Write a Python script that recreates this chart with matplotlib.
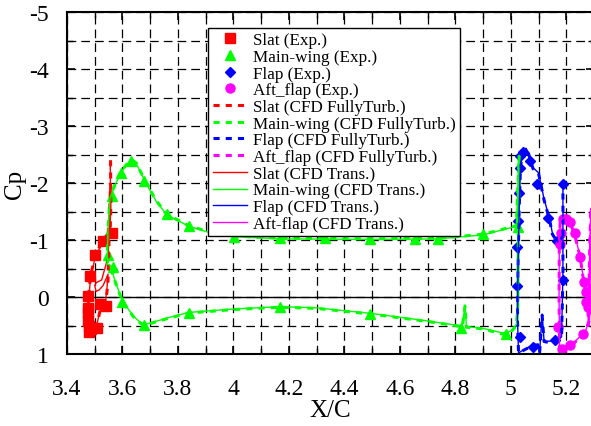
import matplotlib
matplotlib.use("Agg")
import matplotlib.pyplot as plt
from matplotlib.ticker import MultipleLocator, FormatStrFormatter

plt.rcParams['font.family'] = ['Liberation Serif', 'DejaVu Serif']
plt.rcParams['axes.unicode_minus'] = False

# experimental data
slat_x = [3.561, 3.529, 3.501, 3.483, 3.477, 3.476, 3.476, 3.477, 3.480, 3.478, 3.486, 3.507, 3.519, 3.540]
slat_cp = [-1.13, -0.99, -0.74, -0.36, -0.01, 0.19, 0.27, 0.42, 0.50, 0.61, 0.56, 0.55, 0.12, 0.16]

main_x = [3.549, 3.561, 3.594, 3.630, 3.677, 3.759, 3.841, 4.003, 4.168, 4.330, 4.492, 4.654, 4.738, 4.900, 5.026,
          3.565, 3.597, 3.677, 3.841, 4.168, 4.492, 4.822, 4.981]
main_cp = [-0.74, -1.78, -2.18, -2.38, -2.04, -1.46, -1.25, -1.06, -1.03, -1.03, -1.02, -1.02, -1.02, -1.10, -1.22,
           -0.52, 0.08, 0.49, 0.28, 0.18, 0.30, 0.55, 0.65]

flap_x = [5.021, 5.021, 5.026, 5.029, 5.032, 5.035, 5.044, 5.068, 5.095, 5.134, 5.167, 5.188, 5.188, 5.158, 5.080, 5.032]
flap_cp = [-0.20, -0.87, -1.34, -1.82, -2.27, -2.48, -2.54, -2.39, -1.98, -1.38, -0.99, -1.98, -0.29, 0.75, 0.88, 0.70]

aft_x = [5.170, 5.177, 5.182, 5.189, 5.200, 5.215, 5.230, 5.248, 5.263, 5.270, 5.272, 5.278, 5.260, 5.215, 5.183]
aft_cp = [0.52, -0.93, -1.13, -1.36, -1.37, -1.32, -1.13, -0.70, -0.26, -0.09, 0.09, 0.18, 0.65, 0.85, 0.91]

# CFD fully turbulent
ft_slat_x = [3.557, 3.558, 3.556, 3.550, 3.530, 3.502, 3.484, 3.478, 3.477, 3.479, 3.488, 3.505, 3.520, 3.540, 3.548, 3.551, 3.554, 3.557]
ft_slat_cp = [-2.40, -1.60, -1.20, -1.12, -1.00, -0.73, -0.36, 0.00, 0.30, 0.50, 0.62, 0.56, 0.22, 0.12, -0.30, -0.90, -1.50, -2.00]

ft_main_x = [3.545, 3.548, 3.555, 3.575, 3.595, 3.620, 3.635, 3.650, 3.680, 3.720, 3.760, 3.840, 3.920, 4.000, 4.170, 4.500,
             4.740, 4.900, 4.980, 5.020, 5.030, 5.027, 5.025, 5.020, 5.000, 4.970, 4.900, 4.840, 4.835, 4.825, 4.700, 4.500,
             4.300, 4.170, 4.000, 3.840, 3.760, 3.690, 3.670, 3.640, 3.600, 3.575, 3.555, 3.545]
ft_main_cp = [-0.60, -1.20, -1.75, -2.00, -2.20, -2.36, -2.40, -2.35, -2.05, -1.70, -1.45, -1.25, -1.13, -1.07, -1.03, -1.02,
              -1.03, -1.10, -1.20, -1.25, -2.47, -1.00, 0.20, 0.50, 0.62, 0.65, 0.56, 0.53, 0.16, 0.52, 0.43, 0.30,
              0.20, 0.18, 0.22, 0.28, 0.38, 0.48, 0.48, 0.35, 0.08, -0.25, -0.55, -0.60]

ft_flap_x = [5.183, 5.170, 5.150, 5.140, 5.120, 5.100, 5.080, 5.065, 5.055, 5.045, 5.035, 5.030, 5.026, 5.024, 5.028,
             5.060, 5.080, 5.098, 5.104, 5.113, 5.120, 5.128, 5.165, 5.183, 5.188, 5.188]
ft_flap_cp = [-1.05, -0.95, -1.10, -1.35, -1.70, -2.17, -2.25, -2.50, -2.60, -2.55, -2.30, -1.50, -0.50, 0.40, 0.98,
              0.90, 0.85, 0.84, 0.97, 0.32, 0.78, 0.79, 0.77, 0.71, -0.40, -2.02]

ft_aft_x = [5.175, 5.178, 5.182, 5.190, 5.200, 5.210, 5.230, 5.250, 5.262, 5.270, 5.278, 5.280, 5.285, 5.290,
            5.284, 5.270, 5.260, 5.220, 5.190, 5.176, 5.174, 5.175]
ft_aft_cp = [-1.00, -1.30, -1.35, -1.38, -1.40, -1.35, -1.10, -0.70, -0.30, -0.10, 0.20, 0.50, -1.00, -1.55,
             0.40, 0.60, 0.65, 0.85, 0.92, 1.00, 0.00, -1.00]

# CFD transitional
tr_slat_x = [3.556, 3.557, 3.555, 3.549, 3.530, 3.502, 3.485, 3.479, 3.478, 3.480, 3.489, 3.505, 3.518, 3.538, 3.545,
             3.548, 3.530, 3.515, 3.505, 3.500, 3.505, 3.525, 3.548, 3.553, 3.556]
tr_slat_cp = [-2.35, -1.55, -1.18, -1.10, -0.98, -0.70, -0.35, 0.00, 0.28, 0.48, 0.60, 0.55, 0.25, 0.14, -0.20,
              -0.40, -0.20, -0.12, -0.10, -0.20, -0.25, -0.30, -0.70, -1.30, -1.90]

tr_main_x = ft_main_x
tr_main_cp = [-0.58, -1.18, -1.74, -1.98, -2.19, -2.35, -2.39, -2.34, -2.04, -1.69, -1.44, -1.24, -1.12, -1.06, -1.02, -1.01,
              -1.02, -1.09, -1.19, -1.24, -2.45, -1.00, 0.18, 0.48, 0.60, 0.63, 0.55, 0.52, 0.14, 0.51, 0.42, 0.29,
              0.19, 0.17, 0.21, 0.27, 0.37, 0.47, 0.47, 0.34, 0.07, -0.26, -0.56, -0.58]

tr_flap_x = ft_flap_x
tr_flap_cp = [-1.06, -0.96, -1.12, -1.37, -1.72, -2.18, -2.27, -2.52, -2.61, -2.56, -2.31, -1.52, -0.52, 0.38, 0.98,
              0.89, 0.84, 0.83, 0.96, 0.30, 0.77, 0.78, 0.76, 0.70, -0.42, -2.03]

tr_aft_x = ft_aft_x
tr_aft_cp = [-1.01, -1.31, -1.36, -1.39, -1.41, -1.36, -1.11, -0.71, -0.31, -0.11, 0.19, 0.49, -1.01, -1.56,
             0.39, 0.59, 0.64, 0.84, 0.91, 0.99, 0.00, -1.01]

red, green, blue, magenta = '#ff0000', '#00ff00', '#0000ff', '#ff00ff'

fig = plt.figure(figsize=(5.91, 4.27), dpi=100)
ax = fig.add_axes([67/591, 1 - 355/427, 527/591, 342/427])

ax.plot(slat_x, slat_cp, 's', color=red, ms=6.5, label='Slat (Exp.)')
ax.plot(main_x, main_cp, '^', color=green, ms=6.5, label='Main-wing (Exp.)')
ax.plot(flap_x, flap_cp, 'D', color=blue, ms=5, label='Flap (Exp.)')
ax.plot(aft_x, aft_cp, 'o', color=magenta, ms=6.5, label='Aft_flap (Exp.)')

dash = (0, (2.0, 2.0))
ax.plot(ft_slat_x, ft_slat_cp, color=red, lw=2.2, ls=dash, label='Slat (CFD FullyTurb.)')
ax.plot(ft_main_x, ft_main_cp, color=green, lw=2.2, ls=dash, label='Main-wing (CFD FullyTurb.)')
ax.plot(ft_flap_x, ft_flap_cp, color=blue, lw=2.2, ls=dash, label='Flap (CFD FullyTurb.)')
ax.plot(ft_aft_x, ft_aft_cp, color=magenta, lw=2.2, ls=dash, label='Aft_flap (CFD FullyTurb.)')

ax.plot(tr_slat_x, tr_slat_cp, color=red, lw=1.0, label='Slat (CFD Trans.)')
ax.plot(tr_main_x, tr_main_cp, color=green, lw=1.0, label='Main-wing (CFD Trans.)')
ax.plot(tr_flap_x, tr_flap_cp, color=blue, lw=1.0, label='Flap (CFD Trans.)')
ax.plot(tr_aft_x, tr_aft_cp, color=magenta, lw=1.0, label='Aft-flap (CFD Trans.)')

ax.axhline(0, color='black', lw=1.0, zorder=1)

ax.set_xlim(3.4, 5.3)
ax.set_ylim(1, -5)
ax.xaxis.set_major_locator(MultipleLocator(0.2))
ax.xaxis.set_minor_locator(MultipleLocator(0.1))
ax.yaxis.set_major_locator(MultipleLocator(1))
ax.yaxis.set_minor_locator(MultipleLocator(0.5))
ax.xaxis.set_major_formatter(FormatStrFormatter('%g'))
ax.yaxis.set_major_formatter(FormatStrFormatter('%g'))
ax.grid(True, which='both', color='black', ls=(0, (7, 4)), lw=0.9, zorder=0)
ax.tick_params(which='both', direction='in', top=True, right=True, labelsize=17)
ax.tick_params(axis='x', pad=17)
ax.tick_params(axis='y', pad=13)
ax.tick_params(which='major', length=6, width=1.2)
ax.tick_params(which='minor', length=4, width=1.0)
for s in ax.spines.values():
    s.set_linewidth(1.5)

ax.set_xlabel('X/C', fontsize=18, labelpad=0)
ax.set_ylabel('Cp', fontsize=18, labelpad=2)

leg = ax.legend(loc='upper left', bbox_to_anchor=(0.268, 0.953), borderaxespad=0,
                fontsize=12.3, labelspacing=0.04, handlelength=2.0, handletextpad=0.35,
                borderpad=0.25, fancybox=False, framealpha=1, edgecolor='black')
leg.get_frame().set_linewidth(1.0)

fig.savefig('out.png', dpi=100)
